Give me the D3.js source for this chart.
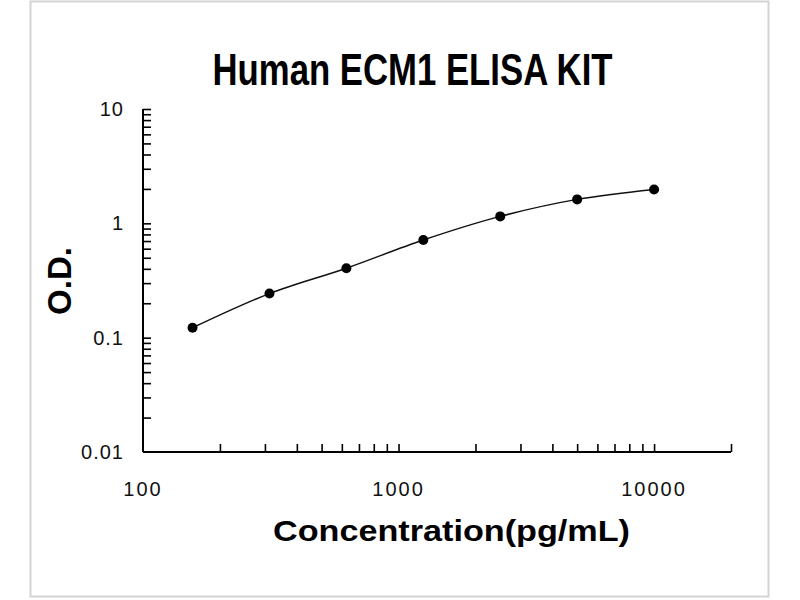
<!DOCTYPE html>
<html>
<head>
<meta charset="utf-8">
<script src="https://cdn.jsdelivr.net/npm/d3@7"></script>
<style>
  body { margin: 0; background: #fff; }
  svg { display: block; }
</style>
</head>
<body>
<div id="chart"></div>
<script>
// Standard curve points
const concentrations = [156.25, 312.5, 625, 1250, 2500, 5000, 10000];
const odValues = [0.122, 0.243, 0.405, 0.715, 1.15, 1.62, 1.98];

// Axis ticks
const xMajorTicks = [100, 1000, 10000];
const xMinorTicks = [200, 300, 400, 500, 600, 700, 800, 900, 1000,
    2000, 3000, 4000, 5000, 6000, 7000, 8000, 9000, 10000, 20000];
const yMajorTicks = [0.01, 0.1, 1, 10];
const yMinorTicks = [0.02, 0.03, 0.04, 0.05, 0.06, 0.07, 0.08, 0.09, 0.1,
    0.2, 0.3, 0.4, 0.5, 0.6, 0.7, 0.8, 0.9, 1,
    2, 3, 4, 5, 6, 7, 8, 9, 10];

const width = 800, height = 600;
const plot = { left: 143, right: 731, top: 109, bottom: 452 };

const svg = d3.select("#chart")
    .append("svg")
    .attr("width", width)
    .attr("height", height);

// outer frame
svg.append("rect")
    .attr("x", 30.5).attr("y", 1.5)
    .attr("width", 738).attr("height", 595)
    .attr("fill", "#fff")
    .attr("stroke", "#d4d4d4")
    .attr("stroke-width", 2);

const x = d3.scaleLog().domain([100, 20000]).range([plot.left, plot.right]);
const y = d3.scaleLog().domain([0.01, 10]).range([plot.bottom, plot.top]);

// y axis: ticks pointing inward (right)
svg.append("g")
    .attr("transform", `translate(${plot.left},0)`)
    .call(d3.axisRight(y).tickValues(yMinorTicks).tickSize(8).tickFormat(""))
    .call(g => g.select(".domain").attr("stroke", "#000").attr("stroke-width", 2)
        .attr("d", `M0,${plot.top}V${plot.bottom}`))
    .call(g => g.selectAll(".tick line").attr("stroke", "#000").attr("stroke-width", 1.6));

// x axis: ticks pointing inward (up)
svg.append("g")
    .attr("transform", `translate(0,${plot.bottom})`)
    .call(d3.axisTop(x).tickValues(xMinorTicks).tickSize(8).tickFormat(""))
    .call(g => g.select(".domain").attr("stroke", "#000").attr("stroke-width", 2)
        .attr("d", `M${plot.left},0H${plot.right}`))
    .call(g => g.selectAll(".tick line").attr("stroke", "#000").attr("stroke-width", 1.6));

// tick labels
const labelFont = "'Liberation Sans', Arial, sans-serif";
svg.append("g")
    .selectAll("text")
    .data(yMajorTicks)
    .join("text")
    .attr("x", 124)
    .attr("y", d => y(d) + 7)
    .attr("text-anchor", "end")
    .attr("font-family", labelFont)
    .attr("font-size", 20)
    .attr("letter-spacing", 1)
    .attr("fill", "#111")
    .text(d => d);

svg.append("g")
    .selectAll("text")
    .data(xMajorTicks)
    .join("text")
    .attr("x", d => x(d))
    .attr("y", 496)
    .attr("text-anchor", "middle")
    .attr("font-family", labelFont)
    .attr("font-size", 20)
    .attr("letter-spacing", 2)
    .attr("fill", "#111")
    .text(d => d);

// titles
svg.append("text")
    .attr("x", 412.5)
    .attr("y", 85)
    .attr("text-anchor", "middle")
    .attr("font-family", "'Liberation Sans Narrow', 'Liberation Sans', Arial, sans-serif")
    .attr("font-weight", "bold")
    .attr("font-size", 44)
    .attr("textLength", 400)
    .attr("lengthAdjust", "spacingAndGlyphs")
    .text("Human ECM1 ELISA KIT");

svg.append("text")
    .attr("x", 451.5)
    .attr("y", 541)
    .attr("text-anchor", "middle")
    .attr("font-family", labelFont)
    .attr("font-weight", "bold")
    .attr("font-size", 30)
    .attr("textLength", 357)
    .attr("lengthAdjust", "spacingAndGlyphs")
    .text("Concentration(pg/mL)");

svg.append("text")
    .attr("transform", "translate(71,281) rotate(-90)")
    .attr("text-anchor", "middle")
    .attr("font-family", labelFont)
    .attr("font-weight", "bold")
    .attr("font-size", 33)
    .attr("textLength", 68)
    .attr("lengthAdjust", "spacingAndGlyphs")
    .text("O.D.");

// curve and points
const points = concentrations.map((c, i) => ({ c, od: odValues[i] }));

const line = d3.line()
    .x(d => x(d.c))
    .y(d => y(d.od))
    .curve(d3.curveCatmullRom.alpha(0.5));

svg.append("path")
    .datum(points)
    .attr("fill", "none")
    .attr("stroke", "#111")
    .attr("stroke-width", 1.5)
    .attr("d", line);

svg.append("g")
    .selectAll("circle")
    .data(points)
    .join("circle")
    .attr("cx", d => x(d.c))
    .attr("cy", d => y(d.od))
    .attr("r", 5)
    .attr("fill", "#000");
</script>
</body>
</html>
